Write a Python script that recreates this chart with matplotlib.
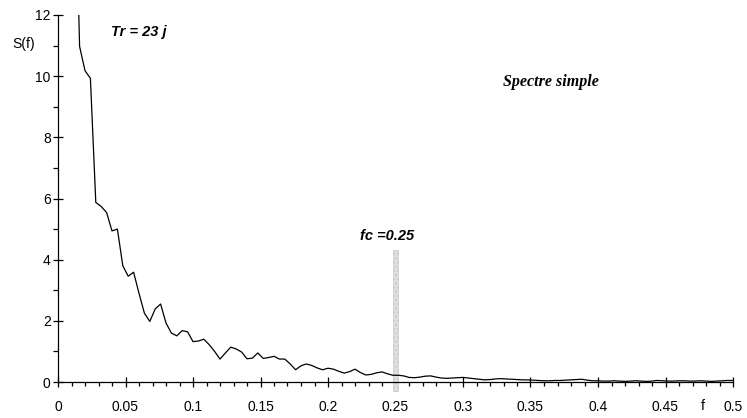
import matplotlib
matplotlib.use("Agg")
import matplotlib.pyplot as plt
from matplotlib.patches import Rectangle
from matplotlib.ticker import MultipleLocator

# Spectrum S(f), frequency step 1/250, starting at k = 3
f_step = 1.0 / 250
k_start = 3
s_values = [
    18.0, 10.97, 10.18, 9.93, 5.87, 5.74, 5.54, 4.94, 5.00, 3.80,
    3.46, 3.59, 2.90, 2.25, 1.98, 2.39, 2.55, 1.93, 1.60, 1.51,
    1.68, 1.64, 1.32, 1.34, 1.40, 1.22, 1.00, 0.75, 0.95, 1.14,
    1.08, 0.98, 0.76, 0.78, 0.95, 0.77, 0.80, 0.84, 0.75, 0.75,
    0.59, 0.40, 0.53, 0.59, 0.54, 0.46, 0.40, 0.45, 0.42, 0.35,
    0.29, 0.34, 0.42, 0.31, 0.23, 0.25, 0.30, 0.33, 0.27, 0.22,
    0.22, 0.20, 0.15, 0.14, 0.16, 0.19, 0.20, 0.16, 0.13, 0.12,
    0.13, 0.14, 0.15, 0.13, 0.11, 0.09, 0.07, 0.08, 0.10, 0.11,
    0.10, 0.09, 0.08, 0.07, 0.07, 0.06, 0.05, 0.04, 0.04, 0.05,
    0.05, 0.06, 0.07, 0.08, 0.09, 0.06, 0.04, 0.04, 0.03, 0.03,
    0.04, 0.03, 0.02, 0.03, 0.04, 0.03, 0.02, 0.03, 0.05, 0.04,
    0.03, 0.03, 0.04, 0.04, 0.03, 0.03, 0.04, 0.03, 0.02, 0.03,
    0.04, 0.05, 0.05,
]
freqs = [(k_start + i) * f_step for i in range(len(s_values))]

x_ticks = [0, 0.05, 0.1, 0.15, 0.2, 0.25, 0.3, 0.35, 0.4, 0.45, 0.5]
x_tick_labels = ["0", "0.05", "0.1", "0.15", "0.2", "0.25", "0.3", "0.35", "0.4", "0.45", "0.5"]
y_ticks = [0, 2, 4, 6, 8, 10, 12]

fc = 0.25
fc_top = 4.33

plt.rcParams["font.family"] = ["Liberation Sans", "DejaVu Sans"]
plt.rcParams["hatch.color"] = "#bdbdbd"

fig = plt.figure(figsize=(7.47, 4.18), dpi=100)
ax = fig.add_axes([58 / 747, 1 - 382 / 418, (733 - 58) / 747, (382 - 15) / 418])

ax.plot(freqs, s_values, color="black", lw=0.9, zorder=3)

# cut-off frequency marker
ax.add_patch(Rectangle((fc - 0.0018, -0.3), 0.0036, fc_top + 0.3,
                       facecolor="#e0e0e0", edgecolor="#c8c8c8", lw=0.5,
                       hatch="....", clip_on=False, zorder=2))

ax.set_xlim(0, 0.5)
ax.set_ylim(0, 12)
for side in ("top", "right"):
    ax.spines[side].set_visible(False)
for side in ("left", "bottom"):
    ax.spines[side].set_linewidth(0.9)

ax.set_xticks(x_ticks)
ax.set_xticklabels(x_tick_labels)
ax.set_yticks(y_ticks)
ax.xaxis.set_minor_locator(MultipleLocator(0.01))
ax.yaxis.set_minor_locator(MultipleLocator(1))

ax.tick_params(axis="x", which="major", direction="inout", length=7.5, width=0.9,
               pad=9, labelsize=10)
ax.tick_params(axis="x", which="minor", direction="out", length=3.2, width=0.9)
ax.tick_params(axis="y", which="major", direction="inout", length=7.5, width=0.9,
               pad=1.5, labelsize=10)
ax.tick_params(axis="y", which="minor", direction="out", length=3.6, width=0.9)

ax.text(-0.0256, 11.06, "S(f)", fontsize=10, ha="center", va="center", clip_on=False)
ax.text(0.4778, -0.78, "f", fontsize=10, ha="center", va="center", clip_on=False)

ax.text(0.0596, 11.45, "Tr = 23 j", fontsize=10.5, fontweight="bold", fontstyle="italic",
        ha="center", va="center")
ax.text(0.2437, 4.79, "fc =0.25", fontsize=10.5, fontweight="bold", fontstyle="italic",
        ha="center", va="center")
ax.text(0.365, 9.8, "Spectre simple", fontsize=11.5, fontweight="bold", fontstyle="italic",
        family=["Liberation Serif", "DejaVu Serif"], ha="center", va="center")

fig.savefig("out.png", dpi=100)
